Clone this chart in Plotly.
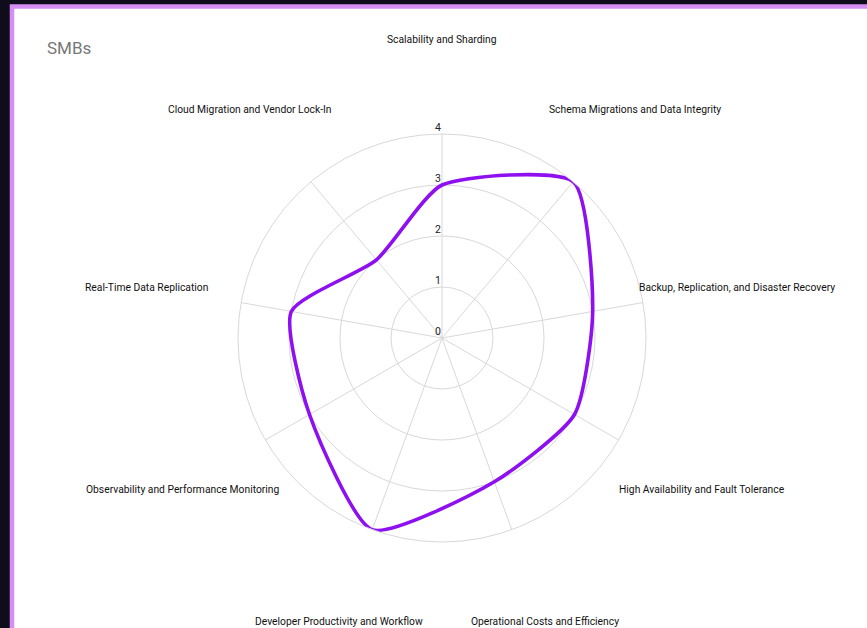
import math
import plotly.graph_objects as go

categories = [
    "Scalability and Sharding",
    "Schema Migrations and Data Integrity",
    "Backup, Replication, and Disaster Recovery",
    "High Availability and Fault Tolerance",
    "Operational Costs and Efficiency",
    "Developer Productivity and Workflow",
    "Observability and Performance Monitoring",
    "Real-Time Data Replication",
    "Cloud Migration and Vendor Lock-In",
]
values = [3, 4, 3, 3, 3, 4, 3, 3, 2]
radial_ticks = [0, 1, 2, 3, 4]
title_text = "SMBs"

W, H = 867, 628
CX, CY, R = 442, 338, 204
LABEL_R = 300
RMAX = 4

fig = go.Figure()
fig.add_trace(go.Scatterpolar(
    r=values + values[:1],
    theta=categories + categories[:1],
    mode="lines",
    line=dict(color="#8e10f0", width=3.6, shape="spline", smoothing=0.6),
    hoverinfo="skip",
    showlegend=False,
))

fig.update_layout(
    width=W, height=H,
    margin=dict(l=0, r=0, t=0, b=0),
    paper_bgcolor="#0f0d1c",
    plot_bgcolor="white",
    font=dict(family="Roboto, sans-serif", color="#222"),
    polar=dict(
        domain=dict(x=[(CX - R) / W, (CX + R) / W], y=[(H - CY - R) / H, (H - CY + R) / H]),
        bgcolor="rgba(0,0,0,0)",
        angularaxis=dict(
            rotation=90, direction="clockwise",
            showticklabels=False, ticks="",
            showline=True, linecolor="#d8d8d8", linewidth=1,
            gridcolor="#d8d8d8", gridwidth=1,
        ),
        radialaxis=dict(
            range=[0, RMAX], tickvals=radial_ticks,
            showticklabels=False, ticks="",
            showline=False,
            gridcolor="#d8d8d8", gridwidth=1,
        ),
    ),
)

# card background with purple border
fig.add_shape(type="rect", xref="paper", yref="paper",
              x0=12 / W, x1=1.05, y0=-0.05, y1=(H - 6.5) / H,
              fillcolor="white", line=dict(color="#d58ef3", width=4.5), layer="below")

annotations = [dict(text=title_text, x=45 / W, y=(H - 48) / H, xref="paper", yref="paper",
                    xanchor="left", yanchor="middle", showarrow=False,
                    font=dict(size=17, color="#777777", family="Roboto, sans-serif"))]

n = len(categories)
for i, cat in enumerate(categories):
    a = 2 * math.pi * i / n
    x = CX + LABEL_R * math.sin(a)
    y = CY - LABEL_R * math.cos(a) + 1.5
    annotations.append(dict(text=cat, x=x / W, y=(H - y) / H, xref="paper", yref="paper",
                            xanchor="center", yanchor="middle", showarrow=False,
                            font=dict(size=10.3, color="#111111", family="Roboto, sans-serif")))

for t in radial_ticks:
    y = CY - R * t / RMAX
    annotations.append(dict(text=str(t), x=(CX - 4) / W, y=(H - y - 2) / H, xref="paper", yref="paper",
                            xanchor="center", yanchor="bottom", showarrow=False,
                            font=dict(size=10.5, color="#222222", family="Roboto, sans-serif")))

fig.update_layout(annotations=annotations)
fig.write_html("out.html", config=dict(displayModeBar=False),
               post_script="document.body.style.margin='0';document.body.style.background='#0f0d1c';")
